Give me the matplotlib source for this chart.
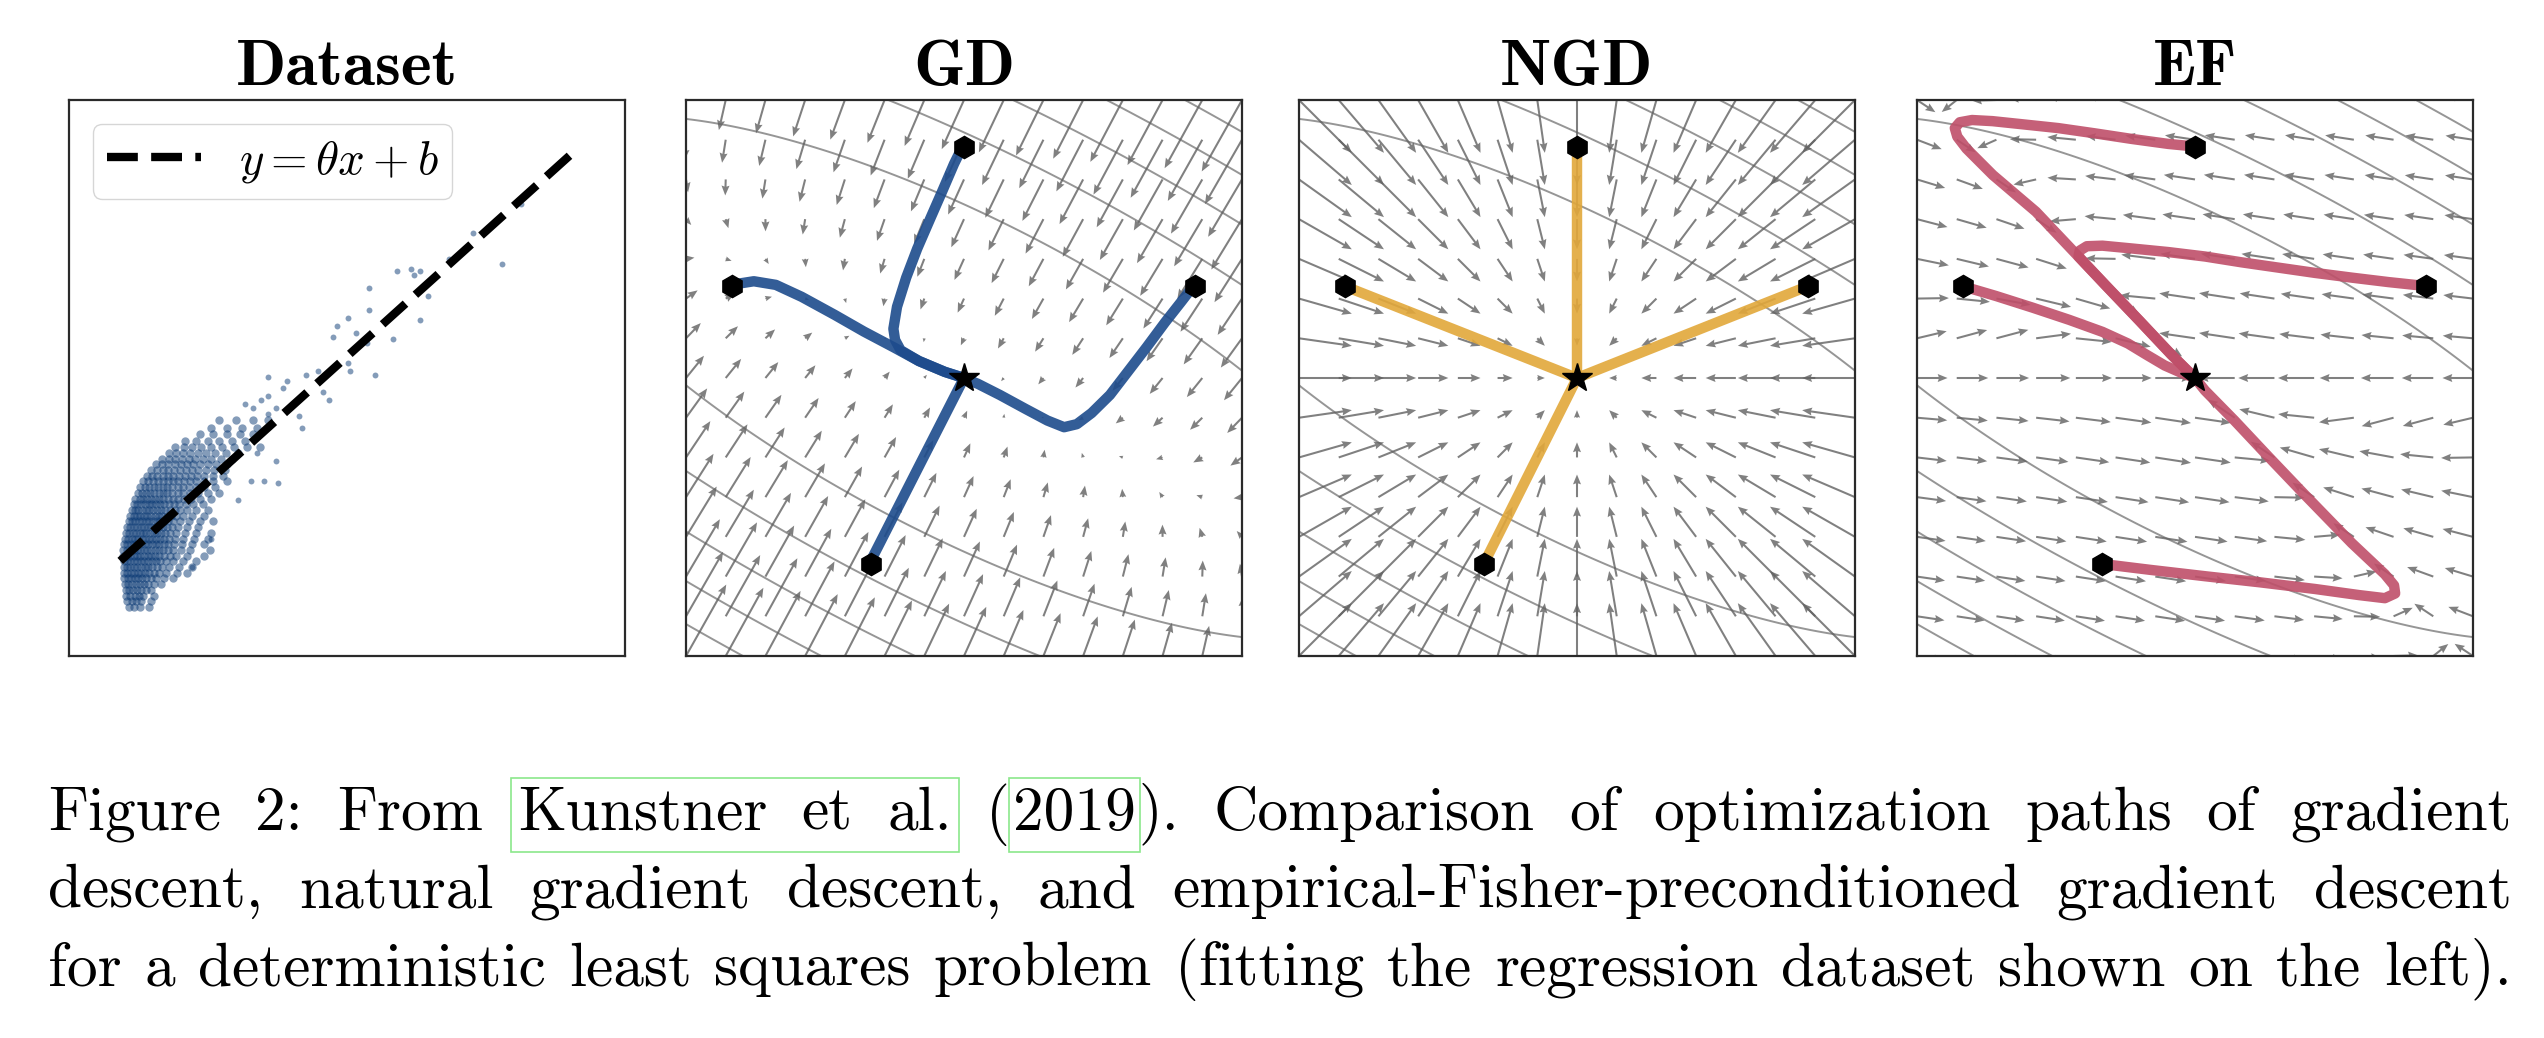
import numpy as np
import matplotlib
matplotlib.use("Agg")
import matplotlib.pyplot as plt
from matplotlib.patches import Rectangle

plt.rcParams["mathtext.fontset"] = "cm"
plt.rcParams["axes.formatter.use_mathtext"] = True

# ---------------------------------------------------------------- data
titles = ["Dataset", "GD", "NGD", "EF"]
legend_label = r"$y = \theta x + b$"

# Dataset scatter on a pixel-like grid (x right, y up).
# dense cloud, row by row
cloud_row_y = [122, 136, 150, 164, 178, 192, 206, 220, 234, 248, 262, 276, 290, 304, 318, 332,
               346, 360, 374, 388, 402, 416, 430, 444, 458, 472, 486, 500, 514, 530, 546, 562, 580]
cloud_row_x = [
    [232, 246, 262, 285],
    [228, 240, 252, 266, 290],
    [226, 236, 248, 259, 271, 300],
    [224, 233, 243, 254, 265, 277, 292],
    [222, 231, 241, 251, 261, 272, 284, 300, 318],
    [221, 230, 239, 249, 258, 268, 279, 291, 305, 325, 350],
    [220, 229, 238, 247, 257, 266, 276, 287, 299, 312, 330, 360, 386],
    [219, 228, 237, 246, 255, 265, 274, 284, 295, 307, 321, 338, 365, 400],
    [219, 228, 237, 246, 255, 264, 273, 283, 293, 304, 316, 330, 348, 375, 410],
    [218, 227, 236, 245, 254, 263, 272, 282, 292, 302, 313, 325, 340, 358, 385, 430],
    [218, 227, 236, 245, 254, 263, 272, 281, 291, 301, 311, 322, 335, 350, 370, 395, 446],
    [220, 229, 238, 247, 256, 265, 274, 283, 293, 303, 313, 324, 337, 352, 372, 400, 430],
    [222, 231, 240, 249, 258, 267, 276, 285, 295, 305, 315, 326, 339, 354, 375, 405, 440],
    [225, 234, 243, 252, 261, 270, 279, 288, 298, 308, 318, 329, 342, 358, 380, 410, 450],
    [228, 237, 246, 255, 264, 273, 282, 292, 302, 312, 322, 333, 346, 362, 385, 415],
    [232, 241, 250, 259, 268, 277, 286, 296, 306, 316, 326, 337, 350, 367, 390, 420, 455],
    [236, 245, 254, 263, 272, 281, 291, 301, 311, 321, 332, 344, 358, 375, 398, 430],
    [240, 249, 258, 268, 277, 287, 297, 307, 317, 328, 340, 353, 368, 386, 410, 440],
    [245, 255, 265, 275, 285, 295, 305, 315, 326, 338, 351, 365, 382, 402, 428],
    [250, 261, 271, 281, 291, 301, 312, 323, 335, 348, 362, 378, 397, 420, 450],
    [256, 267, 278, 289, 300, 311, 322, 334, 347, 361, 376, 393, 414, 440, 470],
    [262, 274, 286, 298, 310, 322, 334, 347, 361, 376, 392, 410, 432, 460],
    [270, 283, 296, 309, 322, 335, 348, 362, 377, 393, 410, 430, 455, 490],
    [280, 294, 308, 322, 336, 350, 365, 380, 396, 413, 432, 455, 480],
    [292, 307, 322, 337, 352, 367, 383, 399, 416, 435, 458, 485],
    [305, 321, 337, 353, 369, 385, 402, 420, 440, 463, 490],
    [320, 338, 355, 372, 390, 408, 428, 450, 475, 505],
    [338, 357, 376, 395, 415, 436, 460, 488, 520],
    [355, 378, 400, 424, 450, 478, 510, 545, 578],
    [380, 410, 440, 470, 505, 540],
    [420, 455, 490, 525, 560],
    [450, 490, 530, 570],
    [470, 515, 560, 600],
]
# sparse points and the tail along the line
tail_x = [590, 555, 625, 570, 620, 520, 600, 540, 580, 620, 560, 600, 640, 680, 690,
          600, 650, 700, 730, 745, 760, 810, 815, 860, 780, 770, 830, 810, 865, 865,
          930, 880, 940, 975, 1000, 985, 1000, 1020, 1075, 1140, 1215, 1265, 400, 450]
tail_y = [430, 430, 425, 500, 480, 385, 596, 620, 630, 610, 610, 640, 660, 590, 560,
          685, 676, 690, 700, 650, 630, 720, 700, 770, 810, 785, 795, 830, 850, 905,
          780, 690, 947, 950, 945, 935, 825, 885, 975, 1040, 962, 1110, 220, 290]
fit_x = [210, 1410]
fit_y = [235, 1242]

# optimisation panels: parameter plane normalised to [-1, 1]
star_x, star_y = 0.0, 0.0
start_x = [0.0, -0.835, 0.83, -0.335]
start_y = [0.83, 0.33, 0.33, -0.668]

gd_top_x = [-0.007, -0.036, -0.076, -0.122, -0.168, -0.208, -0.241, -0.254, -0.248, -0.228, -0.162, -0.069, 0.0]
gd_top_y = [0.829, 0.770, 0.677, 0.572, 0.466, 0.361, 0.256, 0.177, 0.137, 0.100, 0.061, 0.022, 0.0]
gd_left_x = [-0.839, -0.756, -0.677, -0.584, -0.465, -0.360, -0.254, -0.162, -0.069, 0.0]
gd_left_y = [0.335, 0.348, 0.335, 0.292, 0.227, 0.167, 0.111, 0.061, 0.022, 0.0]
gd_right_x = [0.826, 0.782, 0.723, 0.657, 0.591, 0.525, 0.459, 0.406, 0.360, 0.300, 0.221, 0.129, 0.050, 0.0]
gd_right_y = [0.332, 0.275, 0.200, 0.111, 0.025, -0.061, -0.126, -0.166, -0.177, -0.153, -0.111, -0.061, -0.021, 0.0]
gd_bottom_x = [-0.340, -0.172, 0.0]
gd_bottom_y = [-0.667, -0.337, 0.0]

ef_top_x = [-0.003, -0.096, -0.228, -0.360, -0.492, -0.624, -0.729, -0.802, -0.846, -0.864, -0.855, -0.822, -0.727, -0.572, -0.447, -0.323, -0.197, -0.085, 0.0]
ef_top_y = [0.833, 0.842, 0.860, 0.880, 0.899, 0.913, 0.924, 0.928, 0.920, 0.899, 0.868, 0.825, 0.730, 0.598, 0.466, 0.335, 0.203, 0.084, 0.0]
ef_right_x = [0.828, 0.696, 0.564, 0.432, 0.300, 0.168, 0.036, -0.096, -0.228, -0.333, -0.389, -0.415, -0.419, -0.323, -0.197, -0.085, 0.0]
ef_right_y = [0.331, 0.345, 0.361, 0.378, 0.397, 0.416, 0.437, 0.453, 0.466, 0.476, 0.474, 0.458, 0.437, 0.335, 0.203, 0.084, 0.0]
ef_left_x = [-0.828, -0.716, -0.584, -0.452, -0.333, -0.241, -0.175, -0.109, -0.043, 0.0]
ef_left_y = [0.328, 0.295, 0.253, 0.209, 0.166, 0.124, 0.084, 0.045, 0.016, 0.0]
ef_bottom_x = [-0.333, -0.162, 0.036, 0.234, 0.432, 0.591, 0.683, 0.720, 0.716, 0.683, 0.564, 0.391, 0.266, 0.142, 0.036, 0.0]
ef_bottom_y = [-0.669, -0.690, -0.713, -0.735, -0.759, -0.781, -0.792, -0.775, -0.746, -0.706, -0.594, -0.416, -0.285, -0.153, -0.045, 0.0]

# loss geometry
valley_angle_deg = -27.5
curvature_ratio = 9.5
contour_levels = [3, 6, 9, 12, 15, 18, 21]
# empirical-Fisher model: moments of the regression inputs
input_skew = 1.5
input_kurt = 7.5
noise_level = 0.05

caption_lines = [
    "Figure 2: From Kunstner et al. (2019). Comparison of optimization paths of gradient",
    "descent, natural gradient descent, and empirical-Fisher-preconditioned gradient descent",
    "for a deterministic least squares problem (fitting the regression dataset shown on the left).",
]

# ---------------------------------------------------------------- style
W_PX, H_PX = 2544, 1038
panel_left_px = [69, 686, 1299, 1917]
panel_top_px, panel_size_px = 100, 556
c_gd, c_ngd, c_ef = "#1d4b8c", "#e2a83a", "#bf4f69"
c_pts = "#0b3a75"
arrow_kw = dict(angles="xy", scale_units="xy", scale=1, width=0.0037,
                headwidth=3.9, headlength=4.8, headaxislength=4.3,
                color="0.38", alpha=0.8, zorder=2)

fig = plt.figure(figsize=(W_PX / 100, H_PX / 100), dpi=100)
renderer = fig.canvas.get_renderer()


def text_w(s, **kw):
    t = fig.text(0, 0, s, **kw)
    w = t.get_window_extent(renderer).width
    t.remove()
    return w


# font sizes calibrated on widths measured in the reference (pixels)
title_fs = 42 * 222 / text_w("Dataset", fontfamily="cmb10", fontsize=42)
legend_fs = 32 * 200 / text_w(legend_label, fontsize=32)
cap_fs = 43 * 215 / text_w("descent,", fontfamily="cmr10", fontsize=43)

axes = []
for i, lp in enumerate(panel_left_px):
    ax = fig.add_axes([lp / W_PX, 1 - (panel_top_px + panel_size_px) / H_PX,
                       panel_size_px / W_PX, panel_size_px / H_PX])
    ax.set_xticks([])
    ax.set_yticks([])
    for s in ax.spines.values():
        s.set_linewidth(1.6)
        s.set_color("#2a2a2a")
    ax.set_title(titles[i], fontfamily="cmb10", fontsize=title_fs, pad=11)
    axes.append(ax)

# ---- Dataset
ax = axes[0]
cl_x = [x for row in cloud_row_x for x in row]
cl_y = [y for y, row in zip(cloud_row_y, cloud_row_x) for _ in row]
ax.scatter(cl_x, cl_y, s=36, color=c_pts, alpha=0.5, linewidths=0, zorder=2)
ax.scatter(tail_x, tail_y, s=18, color=c_pts, alpha=0.5, linewidths=0, zorder=2)
ax.plot(fit_x, fit_y, ls="--", color="k", lw=6, label=legend_label, zorder=3)
ax.set_xlim(75, 1540)
ax.set_ylim(2, 1365)
ax.legend(loc="upper left", fontsize=legend_fs, borderpad=0.3, handlelength=2.0,
          handletextpad=0.8, borderaxespad=0.5)

# ---- vector fields
th = np.deg2rad(valley_angle_deg)
e1 = np.array([np.cos(th), np.sin(th)])
e2 = np.array([-np.sin(th), np.cos(th)])
Hm = np.outer(e1, e1) + curvature_ratio * np.outer(e2, e2)

fg = np.linspace(-1, 1, 15)
QX, QY = np.meshgrid(fg, fg)
cg = np.linspace(-1.02, 1.02, 301)
CX, CY = np.meshgrid(cg, cg)
CQ = Hm[0, 0] * CX ** 2 + 2 * Hm[0, 1] * CX * CY + Hm[1, 1] * CY ** 2

gd_scale = 0.023
gU = -(Hm[0, 0] * QX + Hm[0, 1] * QY) * gd_scale
gV = -(Hm[1, 0] * QX + Hm[1, 1] * QY) * gd_scale

ngd_scale = 0.19
nU = -QX * ngd_scale
nV = -QY * ngd_scale

T = np.linalg.cholesky(Hm).T
al = T[0, 0] * QX + T[0, 1] * QY
be = T[1, 1] * QY
s2 = noise_level ** 2
E11 = al ** 2 + be ** 2 + s2
E12 = 2 * al * be + input_skew * be ** 2
E22 = al ** 2 + 2 * input_skew * al * be + input_kurt * be ** 2 + s2
det = E11 * E22 - E12 ** 2
wa = -(E22 * al - E12 * be) / det
wb = -(-E12 * al + E11 * be) / det
eU = wa / T[0, 0] - T[0, 1] * wb / (T[0, 0] * T[1, 1])
eV = wb / T[1, 1]
nrm = np.hypot(eU, eV)
med = np.median(nrm)
safe = np.where(nrm > 0, nrm, 1.0)
ef_len = np.clip(0.11 * (safe / med) ** 0.2, 0.04, 0.13) * (nrm > 0)
eU, eV = eU / safe * ef_len, eV / safe * ef_len

fields = [(gU, gV), (nU, nV), (eU, eV)]
paths = [
    [(gd_top_x, gd_top_y), (gd_left_x, gd_left_y), (gd_right_x, gd_right_y), (gd_bottom_x, gd_bottom_y)],
    [([sx, star_x], [sy, star_y]) for sx, sy in zip(start_x, start_y)],
    [(ef_top_x, ef_top_y), (ef_left_x, ef_left_y), (ef_right_x, ef_right_y), (ef_bottom_x, ef_bottom_y)],
]
colors = [c_gd, c_ngd, c_ef]

for k in range(3):
    ax = axes[k + 1]
    ax.contour(CX, CY, CQ, levels=contour_levels, colors="0.45", linewidths=1.4, alpha=0.75, zorder=1)
    U, V = fields[k]
    ax.quiver(QX, QY, U, V, **arrow_kw)
    for px, py in paths[k]:
        ax.plot(px, py, color=colors[k], lw=7.5, alpha=0.9, solid_capstyle="round",
                solid_joinstyle="round", zorder=3)
    ax.plot(start_x, start_y, ls="none", marker="h", ms=16, color="k", zorder=4)
    ax.plot([star_x], [star_y], ls="none", marker="*", ms=22, color="k", zorder=5)
    ax.set_xlim(-1, 1)
    ax.set_ylim(-1, 1)

# ---- caption (justified)
cap_left, cap_right = 48, 2512
cap_baselines = [830, 907, 985]
marks = {}
for line, base in zip(caption_lines, cap_baselines):
    words = line.split(" ")
    pieces = [["(", "2019", ")."] if w == "(2019)." else [w] for w in words]
    pw = [[text_w(p, fontfamily="cmr10", fontsize=cap_fs) for p in ps] for ps in pieces]
    ww = [sum(p) + 3 * (len(p) - 1) for p in pw]
    gap = (cap_right - cap_left - sum(ww)) / (len(words) - 1)
    x = cap_left
    for ps, ws in zip(pieces, pw):
        for p, w in zip(ps, ws):
            fig.text(x / W_PX, 1 - base / H_PX, p, fontfamily="cmr10", fontsize=cap_fs,
                     ha="left", va="baseline")
            marks.setdefault(p, (x, x + w, base))
            x += w + 3
        x += gap - 3

green = "#8be88b"
for a, b in [("Kunstner", "al."), ("2019", "2019")]:
    pad = 7 if a == "Kunstner" else 4
    x0 = marks[a][0] - pad
    x1 = marks[b][1] + pad
    base = marks[a][2]
    y0, y1 = base + 22, base - 52
    fig.patches.append(Rectangle((x0 / W_PX, 1 - y0 / H_PX), (x1 - x0) / W_PX, (y0 - y1) / H_PX,
                                 transform=fig.transFigure, fill=False, edgecolor=green, lw=1.2))

fig.savefig("out.png", dpi=100)
